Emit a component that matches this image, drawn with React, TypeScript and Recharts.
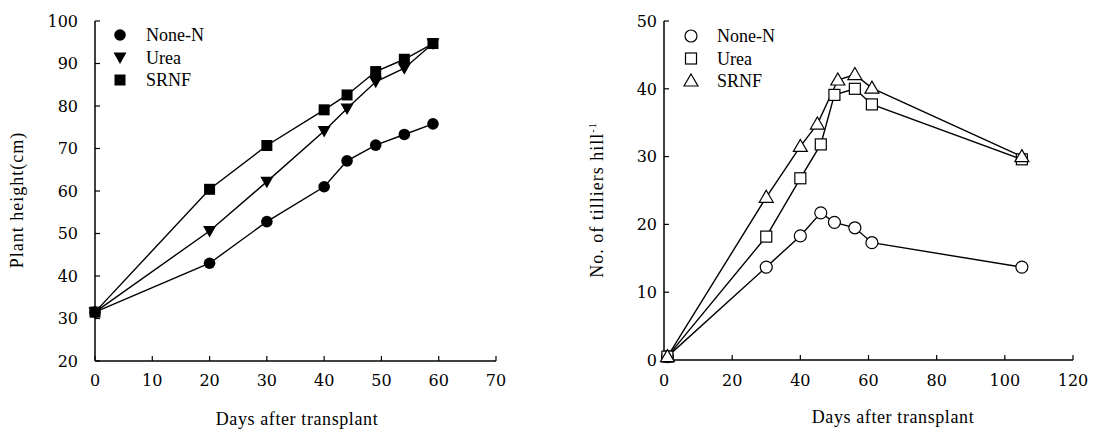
import { Label, Legend, Line, LineChart, XAxis, YAxis } from "recharts";

// Plant height (left panel)
const HEIGHT_DAYS = [0, 20, 30, 40, 44, 49, 54, 59];
const HEIGHT_NONE_N = [31.5, 43, 52.8, 61, 67.1, 70.8, 73.3, 75.8];
const HEIGHT_UREA = [31.5, 50.6, 62.2, 74.1, 79.4, 85.7, 88.9, 94.7];
const HEIGHT_SRNF = [31.5, 60.4, 70.7, 79.1, 82.6, 88.1, 91, 94.7];
const HEIGHT_X_TICKS = [0, 10, 20, 30, 40, 50, 60, 70];
const HEIGHT_Y_TICKS = [20, 30, 40, 50, 60, 70, 80, 90, 100];

// Tillers (right panel)
const TILLER_DAYS_NONE_N = [1, 30, 40, 46, 50, 56, 61, 105];
const TILLER_DAYS_UREA = [1, 30, 40, 46, 50, 56, 61, 105];
const TILLER_DAYS_SRNF = [1, 30, 40, 45, 51, 56, 61, 105];
const TILLER_NONE_N = [0.5, 13.7, 18.3, 21.7, 20.3, 19.5, 17.3, 13.7];
const TILLER_UREA = [0.5, 18.2, 26.8, 31.8, 39.1, 40, 37.7, 29.6];
const TILLER_SRNF = [0.5, 24, 31.5, 34.8, 41.3, 42.1, 40.1, 30];
const TILLER_X_TICKS = [0, 20, 40, 60, 80, 100, 120];
const TILLER_Y_TICKS = [0, 10, 20, 30, 40, 50];

const zip = (xs: number[], ys: number[]) => xs.map((x, i) => ({ x, y: ys[i] }));

const FONT = "Liberation Serif";
const TICK_FONT = "DejaVu Serif";
const AXIS_LINE = { stroke: "#000", strokeWidth: 1.5 };
const TICK_LINE = { stroke: "#000", strokeWidth: 1.2 };

function XTick({ x, y, payload }: any) {
  return (
    <text x={x} y={y} dy="0.71em" textAnchor="middle" fontSize={16} fontFamily={TICK_FONT} fill="#000">
      {payload.value}
    </text>
  );
}

function YTick({ x, y, payload }: any) {
  return (
    <text x={x} y={y} dy="0.36em" textAnchor="end" fontSize={16} fontFamily={TICK_FONT} fill="#000">
      {payload.value}
    </text>
  );
}

type Shape = "circle" | "triDown" | "square" | "openCircle" | "openSquare" | "openTri";

function Marker({ shape, cx, cy }: { shape: Shape; cx: number; cy: number }) {
  if (cx == null || cy == null) return null;
  switch (shape) {
    case "circle":
      return <circle cx={cx} cy={cy} r={5.8} fill="#000" />;
    case "triDown":
      return <path d={`M${cx - 6.5},${cy - 5} L${cx + 6.5},${cy - 5} L${cx},${cy + 6.5} Z`} fill="#000" />;
    case "square":
      return <rect x={cx - 5.5} y={cy - 5.5} width={11} height={11} fill="#000" />;
    case "openCircle":
      return <circle cx={cx} cy={cy} r={6} fill="#fff" stroke="#000" strokeWidth={1.2} />;
    case "openSquare":
      return <rect x={cx - 5.5} y={cy - 5.5} width={11} height={11} fill="#fff" stroke="#000" strokeWidth={1.2} />;
    case "openTri":
      return <path d={`M${cx},${cy - 7} L${cx + 7},${cy + 5} L${cx - 7},${cy + 5} Z`} fill="#fff" stroke="#000" strokeWidth={1.2} />;
  }
}

const dotOf = (shape: Shape) => (p: any) => <Marker key={`${shape}-${p.index}`} shape={shape} cx={p.cx} cy={p.cy} />;

function LegendBox({ items }: { items: { name: string; shape: Shape }[] }) {
  return (
    <svg width={130} height={70}>
      {items.map((it, i) => (
        <g key={it.name}>
          <Marker shape={it.shape} cx={8} cy={10 + i * 22.5} />
          <text x={34} y={10 + i * 22.5 + 6} fontSize={18} fontFamily={FONT} fill="#000">
            {it.name}
          </text>
        </g>
      ))}
    </svg>
  );
}

function HeightChart() {
  return (
    <LineChart width={540} height={430} margin={{ top: 21, right: 44, bottom: 39, left: 35 }}>
      <XAxis dataKey="x" type="number" domain={[0, 70]} ticks={HEIGHT_X_TICKS} interval={0} height={30}
        tick={<XTick />} axisLine={AXIS_LINE} tickLine={TICK_LINE} tickSize={-5} tickMargin={19}>
        <Label content={({ viewBox }: any) => (
          <text x={297} y={viewBox.y + 64} textAnchor="middle" fontSize={18} fontFamily={FONT} letterSpacing={0.6}>Days after transplant</text>
        )} />
      </XAxis>
      <YAxis type="number" domain={[20, 100]} ticks={HEIGHT_Y_TICKS} interval={0} width={60}
        tick={<YTick />} axisLine={AXIS_LINE} tickLine={TICK_LINE} tickSize={-5} tickMargin={22}>
        <Label content={() => (
          <text x={0} y={0} transform="translate(23,200) rotate(-90)" textAnchor="middle" fontSize={18} fontFamily={FONT} letterSpacing={1}>Plant height(cm)</text>
        )} />
      </YAxis>
      <Legend layout="vertical" align="center" verticalAlign="middle"
        wrapperStyle={{ position: "absolute", left: 112, top: 25, width: 130, height: 70 }}
        content={() => <LegendBox items={[{ name: "None-N", shape: "circle" }, { name: "Urea", shape: "triDown" }, { name: "SRNF", shape: "square" }]} />} />
      <Line data={zip(HEIGHT_DAYS, HEIGHT_NONE_N)} dataKey="y" name="None-N" stroke="#000" strokeWidth={1.4}
        dot={dotOf("circle")} activeDot={false} isAnimationActive={false} />
      <Line data={zip(HEIGHT_DAYS, HEIGHT_UREA)} dataKey="y" name="Urea" stroke="#000" strokeWidth={1.4}
        dot={dotOf("triDown")} activeDot={false} isAnimationActive={false} />
      <Line data={zip(HEIGHT_DAYS, HEIGHT_SRNF)} dataKey="y" name="SRNF" stroke="#000" strokeWidth={1.4}
        dot={dotOf("square")} activeDot={false} isAnimationActive={false} />
    </LineChart>
  );
}

function TillerChart() {
  return (
    <LineChart width={552} height={430} margin={{ top: 21, right: 39, bottom: 40, left: 44 }}>
      <XAxis dataKey="x" type="number" domain={[0, 120]} ticks={TILLER_X_TICKS} interval={0} height={30}
        tick={<XTick />} axisLine={AXIS_LINE} tickLine={TICK_LINE} tickSize={-5} tickMargin={20}>
        <Label content={({ viewBox }: any) => (
          <text x={333} y={viewBox.y + 63} textAnchor="middle" fontSize={18} fontFamily={FONT} letterSpacing={0.6}>Days after transplant</text>
        )} />
      </XAxis>
      <YAxis type="number" domain={[0, 50]} ticks={TILLER_Y_TICKS} interval={0} width={60}
        tick={<YTick />} axisLine={AXIS_LINE} tickLine={TICK_LINE} tickSize={-5} tickMargin={12}>
        <Label content={() => (
          <text x={0} y={0} transform="translate(43,200) rotate(-90)" textAnchor="middle" fontSize={18} fontFamily={FONT} letterSpacing={1}>
            No. of tilliers hill<tspan dy={-7} fontSize={10}>-1</tspan>
          </text>
        )} />
      </YAxis>
      <Legend layout="vertical" align="center" verticalAlign="middle"
        wrapperStyle={{ position: "absolute", left: 123, top: 26, width: 130, height: 70 }}
        content={() => <LegendBox items={[{ name: "None-N", shape: "openCircle" }, { name: "Urea", shape: "openSquare" }, { name: "SRNF", shape: "openTri" }]} />} />
      <Line data={zip(TILLER_DAYS_NONE_N, TILLER_NONE_N)} dataKey="y" name="None-N" stroke="#000" strokeWidth={1.4}
        dot={dotOf("openCircle")} activeDot={false} isAnimationActive={false} />
      <Line data={zip(TILLER_DAYS_UREA, TILLER_UREA)} dataKey="y" name="Urea" stroke="#000" strokeWidth={1.4}
        dot={dotOf("openSquare")} activeDot={false} isAnimationActive={false} />
      <Line data={zip(TILLER_DAYS_SRNF, TILLER_SRNF)} dataKey="y" name="SRNF" stroke="#000" strokeWidth={1.4}
        dot={dotOf("openTri")} activeDot={false} isAnimationActive={false} />
    </LineChart>
  );
}

export default function App() {
  return (
    <div style={{ position: "absolute", left: 0, top: 0, width: 1112, height: 430, background: "#fff", fontFamily: FONT }}>
      <div style={{ position: "absolute", left: 0, top: 0 }}>
        <HeightChart />
      </div>
      <div style={{ position: "absolute", left: 560, top: 0 }}>
        <TillerChart />
      </div>
    </div>
  );
}
